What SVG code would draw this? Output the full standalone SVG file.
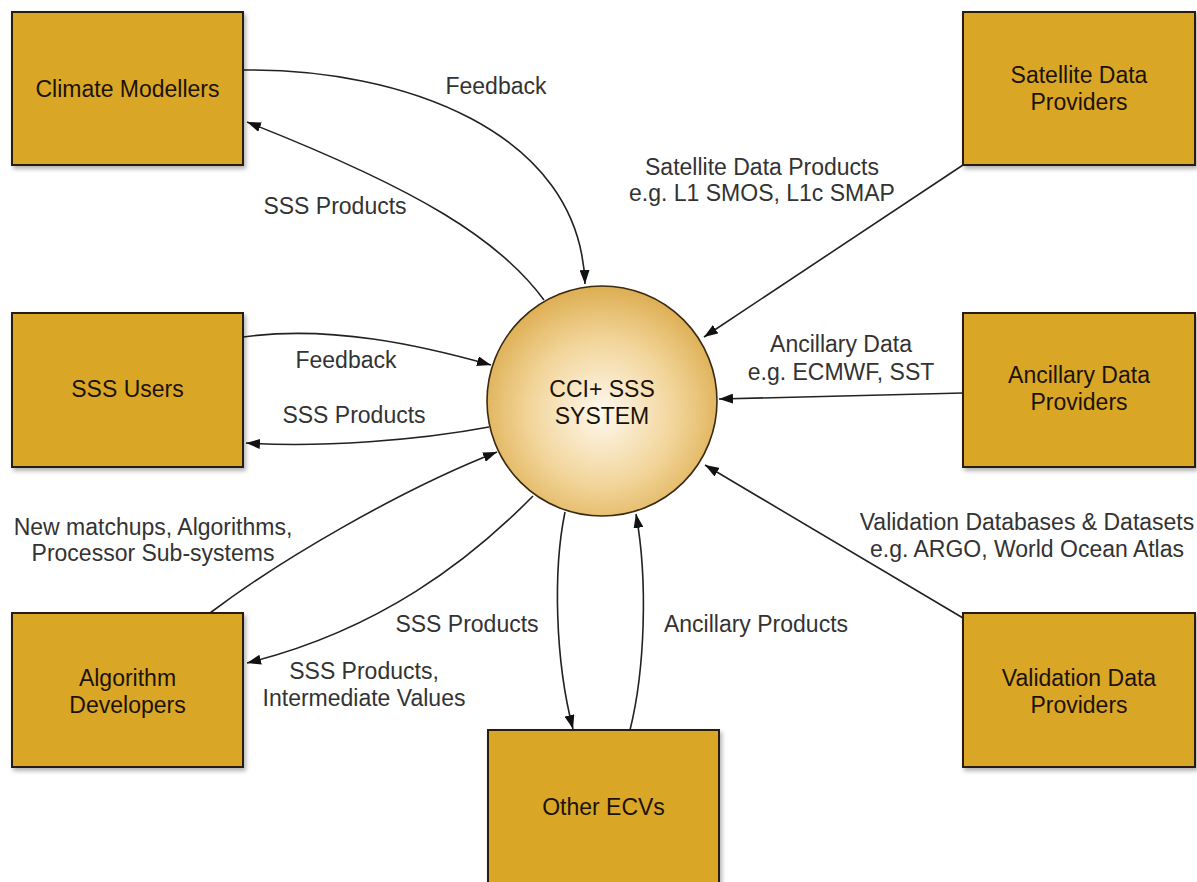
<svg xmlns="http://www.w3.org/2000/svg" width="1197" height="882" viewBox="0 0 1197 882">
<defs>
<style>
.box{fill:#DAA628;stroke:#2a1d10;stroke-width:2;filter:url(#sh)}
.bt{font-family:"Liberation Sans",Arial,sans-serif;font-size:23px;fill:#1c1308;text-anchor:middle}
.lb{font-family:"Liberation Sans",Arial,sans-serif;font-size:23px;fill:#333;text-anchor:middle}
.c{fill:none;stroke:#222;stroke-width:1.6;marker-end:url(#ah)}
</style>
<filter id="sh" x="-10%" y="-10%" width="130%" height="130%">
<feDropShadow dx="2" dy="3" stdDeviation="2" flood-color="#000" flood-opacity="0.3"/>
</filter>
<radialGradient id="rg" cx="0.5" cy="0.55" r="0.55">
<stop offset="0" stop-color="#FFF9EF"/>
<stop offset="0.6" stop-color="#F1D396"/>
<stop offset="1" stop-color="#DDAE52"/>
</radialGradient>
<marker id="ah" viewBox="0 0 14 10" refX="14" refY="5" markerWidth="14" markerHeight="10" markerUnits="userSpaceOnUse" orient="auto">
<path d="M0,0 L14,5 L0,10 z" fill="#111"/>
</marker>
</defs>
<rect width="1197" height="882" fill="#fff"/>
<g id="connectors">
<path class="c" d="M243,70 C400,68 580,130 585,284"/>
<path class="c" d="M544,300 C500,240 420,190 247,122"/>
<path class="c" d="M243,337 C330,325 420,345 491,365"/>
<path class="c" d="M489,427 C420,440 320,448 246,443"/>
<path class="c" d="M210,613 C280,560 400,490 497,452"/>
<path class="c" d="M533,496 C470,560 380,630 247,663"/>
<path class="c" d="M565,512 C553,570 555,660 573,729"/>
<path class="c" d="M630,730 C645,670 648,580 636,514"/>
<path class="c" d="M963,165 L704,337"/>
<path class="c" d="M963,393 L719,399"/>
<path class="c" d="M963,618 L705,465"/>
</g>
<g id="labels">
<text class="lb" x="496" y="94">Feedback</text>
<text class="lb" x="335" y="214">SSS Products</text>
<text class="lb" x="762" y="175">Satellite Data Products</text>
<text class="lb" x="762" y="201">e.g. L1 SMOS, L1c SMAP</text>
<text class="lb" x="346" y="368">Feedback</text>
<text class="lb" x="354" y="423">SSS Products</text>
<text class="lb" x="841" y="352">Ancillary Data</text>
<text class="lb" x="841" y="380">e.g. ECMWF, SST</text>
<text class="lb" x="153" y="535">New matchups, Algorithms,</text>
<text class="lb" x="153" y="561">Processor Sub-systems</text>
<text class="lb" x="1027" y="530">Validation Databases &amp; Datasets</text>
<text class="lb" x="1027" y="557">e.g. ARGO, World Ocean Atlas</text>
<text class="lb" x="467" y="632">SSS Products</text>
<text class="lb" x="364" y="679">SSS Products,</text>
<text class="lb" x="364" y="706">Intermediate Values</text>
<text class="lb" x="756" y="632">Ancillary Products</text>
</g>
<g id="climate-modellers">
<rect class="box" x="12" y="12" width="231" height="153"/>
<text class="bt" x="127.5" y="97">Climate Modellers</text>
</g>
<g id="sss-users">
<rect class="box" x="12" y="313" width="231" height="154"/>
<text class="bt" x="127.5" y="397">SSS Users</text>
</g>
<g id="algorithm-developers">
<rect class="box" x="12" y="613" width="231" height="154"/>
<text class="bt" x="127.5" y="686">Algorithm</text>
<text class="bt" x="127.5" y="713">Developers</text>
</g>
<g id="satellite-data-providers">
<rect class="box" x="963" y="12" width="232" height="153"/>
<text class="bt" x="1079" y="83">Satellite Data</text>
<text class="bt" x="1079" y="110">Providers</text>
</g>
<g id="ancillary-data-providers">
<rect class="box" x="963" y="313" width="232" height="154"/>
<text class="bt" x="1079" y="383">Ancillary Data</text>
<text class="bt" x="1079" y="410">Providers</text>
</g>
<g id="validation-data-providers">
<rect class="box" x="963" y="613" width="232" height="154"/>
<text class="bt" x="1079" y="686">Validation Data</text>
<text class="bt" x="1079" y="713">Providers</text>
</g>
<g id="other-ecvs">
<rect class="box" x="488" y="730" width="231" height="160"/>
<text class="bt" x="603.5" y="815">Other ECVs</text>
</g>
<g id="cci-sss-system">
<circle cx="602" cy="401" r="115" fill="url(#rg)" stroke="#3a2a12" stroke-width="1.6"/>
<text class="bt" x="602" y="397">CCI+ SSS</text>
<text class="bt" x="602" y="424">SYSTEM</text>
</g>
</svg>
